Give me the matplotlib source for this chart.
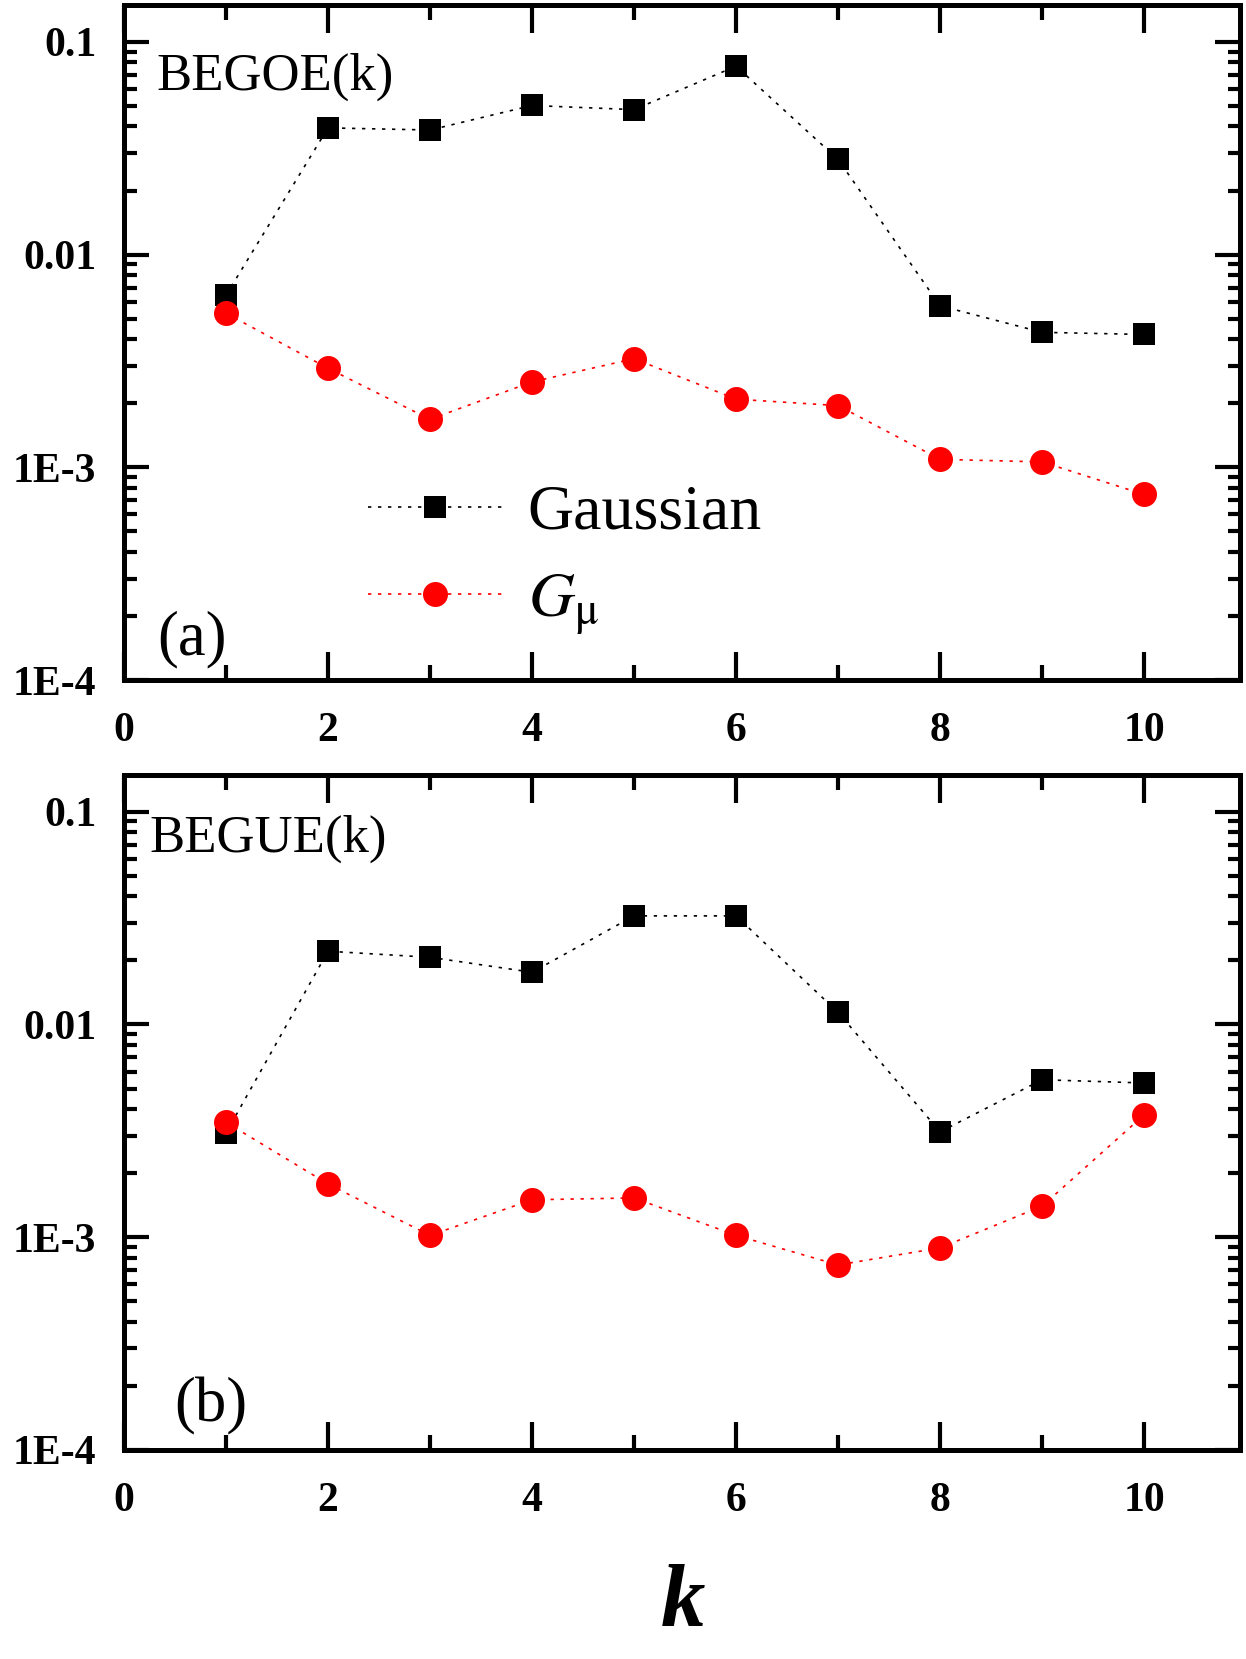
"""Two-panel log plot: Gaussian vs G_mu deviations against k for BEGOE(k) and BEGUE(k)."""

import matplotlib

matplotlib.use("Agg")

import matplotlib.pyplot as plt
from matplotlib.ticker import FixedLocator, LogLocator, MultipleLocator, NullFormatter

plt.rcParams["font.family"] = ["Liberation Serif", "DejaVu Serif"]
plt.rcParams["mathtext.fontset"] = "stix"

k = [1, 2, 3, 4, 5, 6, 7, 8, 9, 10]

# panel (a): BEGOE(k)
goe_gauss = [0.00644, 0.0394, 0.0385, 0.0502, 0.0480, 0.0768, 0.0280, 0.00574, 0.00431, 0.00421]
goe_gmu = [0.00530, 0.00292, 0.00168, 0.00252, 0.00324, 0.00209, 0.00195, 0.00109, 0.00106, 0.000745]

# panel (b): BEGUE(k)
gue_gauss = [0.00309, 0.0221, 0.0207, 0.0176, 0.0324, 0.0324, 0.0114, 0.00313, 0.00550, 0.00531]
gue_gmu = [0.00347, 0.00178, 0.00102, 0.00150, 0.00153, 0.00102, 0.000741, 0.000891, 0.00140, 0.00376]

y_ticks = [1e-4, 1e-3, 1e-2, 1e-1]
y_ticklabels = ["1E-4", "1E-3", "0.01", "0.1"]
x_ticks = [0, 2, 4, 6, 8, 10]

DOT = (0, (2, 4))


def style_axes(ax):
    ax.set_yscale("log")
    ax.set_xlim(0, 10.94)
    ax.set_ylim(1e-4, 0.149)
    ax.xaxis.set_major_locator(FixedLocator(x_ticks))
    ax.xaxis.set_minor_locator(MultipleLocator(1))
    ax.yaxis.set_major_locator(FixedLocator(y_ticks))
    ax.yaxis.set_minor_locator(LogLocator(base=10, subs=range(2, 10), numticks=20))
    ax.yaxis.set_minor_formatter(NullFormatter())
    ax.set_yticklabels(y_ticklabels)
    ax.set_xticklabels([str(t) for t in x_ticks])
    for sp in ax.spines.values():
        sp.set_linewidth(3.6)
    ax.tick_params(which="both", direction="in", top=True, right=True, width=3.0)
    ax.tick_params(axis="x", which="major", length=20, pad=23, labelsize=30)
    ax.tick_params(axis="x", which="minor", length=11)
    ax.tick_params(axis="y", which="major", length=18, pad=20, labelsize=30)
    ax.tick_params(axis="y", which="minor", length=9)
    for lab in ax.get_xticklabels() + ax.get_yticklabels():
        lab.set_fontweight("bold")


def draw(ax, gauss, gmu):
    ax.plot(k, gauss, color="black", linestyle=DOT, linewidth=1.2, marker="s",
            markersize=16, markeredgewidth=0, label="Gaussian", zorder=3)
    ax.plot(k, gmu, color="red", linestyle=DOT, linewidth=1.2, marker="o",
            markersize=18, markeredgewidth=0, label=r"$G_{\mathrm{\mu}}$", zorder=4)


fig = plt.figure(figsize=(12.46, 16.59), dpi=100)
ax_a = fig.add_axes([0.0995, 0.5901, 0.8957, 0.4069])
ax_b = fig.add_axes([0.0995, 0.1260, 0.8957, 0.4069])

draw(ax_a, goe_gauss, goe_gmu)
draw(ax_b, gue_gauss, gue_gmu)
style_axes(ax_a)
style_axes(ax_b)

ax_a.text(0.029, 0.893, "BEGOE(k)", transform=ax_a.transAxes, fontsize=38, va="center", ha="left")
ax_b.text(0.023, 0.905, "BEGUE(k)", transform=ax_b.transAxes, fontsize=38, va="center", ha="left")
ax_a.text(0.030, 0.06, "(a)", transform=ax_a.transAxes, fontsize=45, va="center", ha="left")
ax_b.text(0.045, 0.064, "(b)", transform=ax_b.transAxes, fontsize=45, va="center", ha="left")

ax_a.legend(loc="center left", bbox_to_anchor=(0.19, 0.177), frameon=False, fontsize=46,
            handlelength=2.1, handletextpad=0.4, labelspacing=0.45, borderpad=0)

fig.text(0.548, 0.033, "k", fontsize=64, fontweight="bold", fontstyle="italic",
         ha="center", va="center")

fig.savefig("out.png", dpi=100)
